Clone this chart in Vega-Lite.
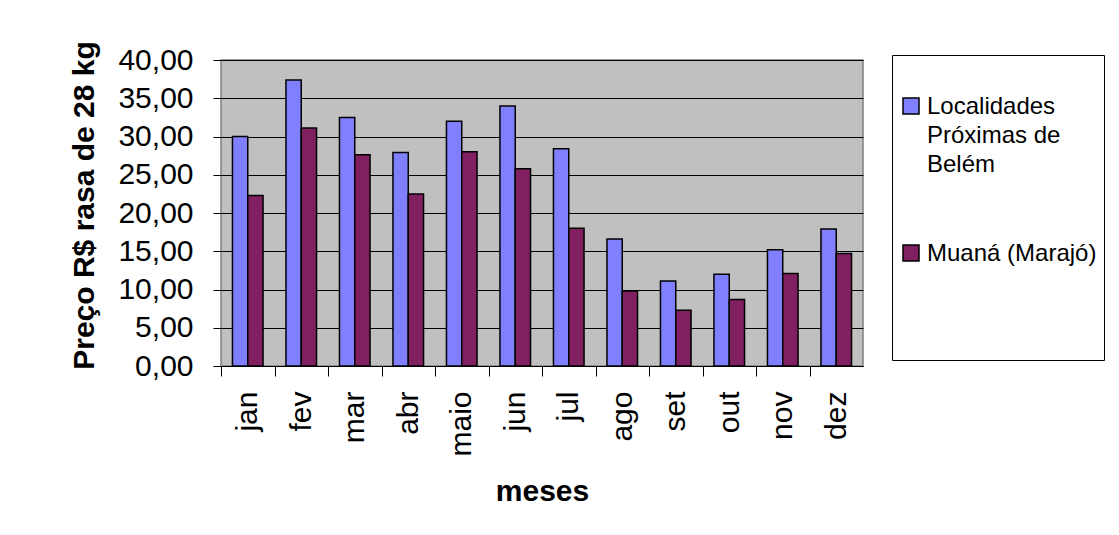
{
  "$schema": "https://vega.github.io/schema/vega-lite/v6.json",
  "width": 642,
  "height": 306,
  "autosize": {"type": "none"},
  "padding": {"left": 221, "top": 60, "right": 256, "bottom": 169},
  "background": "white",
  "config": {
    "font": "Liberation Sans",
    "view": {"fill": "#C0C0C0", "stroke": "#808080", "strokeWidth": 1.5}
  },
  "data": {
    "values": [
      {"mes": "jan", "serie": "Localidades Próximas de Belém", "valor": 30.0},
      {"mes": "jan", "serie": "Muaná (Marajó)", "valor": 22.3},
      {"mes": "fev", "serie": "Localidades Próximas de Belém", "valor": 37.4},
      {"mes": "fev", "serie": "Muaná (Marajó)", "valor": 31.1},
      {"mes": "mar", "serie": "Localidades Próximas de Belém", "valor": 32.5},
      {"mes": "mar", "serie": "Muaná (Marajó)", "valor": 27.6},
      {"mes": "abr", "serie": "Localidades Próximas de Belém", "valor": 27.9},
      {"mes": "abr", "serie": "Muaná (Marajó)", "valor": 22.5},
      {"mes": "maio", "serie": "Localidades Próximas de Belém", "valor": 32.0},
      {"mes": "maio", "serie": "Muaná (Marajó)", "valor": 28.0},
      {"mes": "jun", "serie": "Localidades Próximas de Belém", "valor": 34.0},
      {"mes": "jun", "serie": "Muaná (Marajó)", "valor": 25.8},
      {"mes": "jul", "serie": "Localidades Próximas de Belém", "valor": 28.4},
      {"mes": "jul", "serie": "Muaná (Marajó)", "valor": 18.0},
      {"mes": "ago", "serie": "Localidades Próximas de Belém", "valor": 16.6},
      {"mes": "ago", "serie": "Muaná (Marajó)", "valor": 9.8},
      {"mes": "set", "serie": "Localidades Próximas de Belém", "valor": 11.1},
      {"mes": "set", "serie": "Muaná (Marajó)", "valor": 7.3},
      {"mes": "out", "serie": "Localidades Próximas de Belém", "valor": 12.0},
      {"mes": "out", "serie": "Muaná (Marajó)", "valor": 8.7},
      {"mes": "nov", "serie": "Localidades Próximas de Belém", "valor": 15.2},
      {"mes": "nov", "serie": "Muaná (Marajó)", "valor": 12.1},
      {"mes": "dez", "serie": "Localidades Próximas de Belém", "valor": 17.9},
      {"mes": "dez", "serie": "Muaná (Marajó)", "valor": 14.7}
    ]
  },
  "mark": {"type": "bar", "stroke": "black", "strokeWidth": 1.5},
  "encoding": {
    "x": {
      "field": "mes",
      "type": "nominal",
      "sort": ["jan", "fev", "mar", "abr", "maio", "jun", "jul", "ago", "set", "out", "nov", "dez"],
      "scale": {"paddingInner": 0, "paddingOuter": 0},
      "axis": {
        "title": "meses",
        "titleFontSize": 30,
        "titleFontWeight": "bold",
        "titleColor": "black",
        "titlePadding": 20,
        "labelAngle": -90,
        "labelFontSize": 30,
        "labelColor": "black",
        "labelPadding": 15,
        "tickSize": 10,
        "tickColor": "black",
        "tickOffset": -26.75,
        "labelOffset": 26.75,
        "domainColor": "black",
        "grid": false
      }
    },
    "xOffset": {
      "field": "serie",
      "type": "nominal",
      "sort": ["Localidades Próximas de Belém", "Muaná (Marajó)"],
      "scale": {"paddingInner": 0, "paddingOuter": 0.75}
    },
    "y": {
      "field": "valor",
      "type": "quantitative",
      "scale": {"domain": [0, 40], "nice": false},
      "axis": {
        "title": "Preço R$ rasa de 28 kg",
        "values": [0, 5, 10, 15, 20, 25, 30, 35, 40],
        "labelExpr": "replace(format(datum.value, '.2f'), '.', ',')",
        "labelFontSize": 30,
        "labelColor": "black",
        "labelPadding": 20,
        "tickSize": 8,
        "tickColor": "black",
        "domain": false,
        "grid": true,
        "gridColor": "black",
        "titleFontSize": 30,
        "titleFontWeight": "bold",
        "titleColor": "black",
        "titlePadding": 18,
        "titleY": 145
      }
    },
    "color": {
      "field": "serie",
      "type": "nominal",
      "scale": {"domain": ["Localidades Próximas de Belém", "Muaná (Marajó)"], "range": ["#8080FF", "#802060"]},
      "legend": {
        "orient": "none",
        "legendX": 671,
        "legendY": -5,
        "title": " ",
        "titleFontSize": 12,
        "titlePadding": 20,
        "padding": 7,
        "strokeColor": "black",
        "fillColor": "white",
        "symbolType": "square",
        "symbolSize": 256,
        "symbolStrokeColor": "black",
        "symbolStrokeWidth": 1.5,
        "labelFontSize": 24,
        "labelColor": "black",
        "labelLimit": 400,
        "labelOffset": 4,
        "labelBaseline": "top",
        "rowPadding": 64,
        "labelExpr": "datum.label == 'Localidades Próximas de Belém' ? ['Localidades', 'Próximas de', 'Belém'] : [datum.label, '', '', '']",
        "encode": {"labels": {"update": {"dy": {"value": -11}, "lineHeight": {"value": 29}}}}
      }
    }
  }
}
